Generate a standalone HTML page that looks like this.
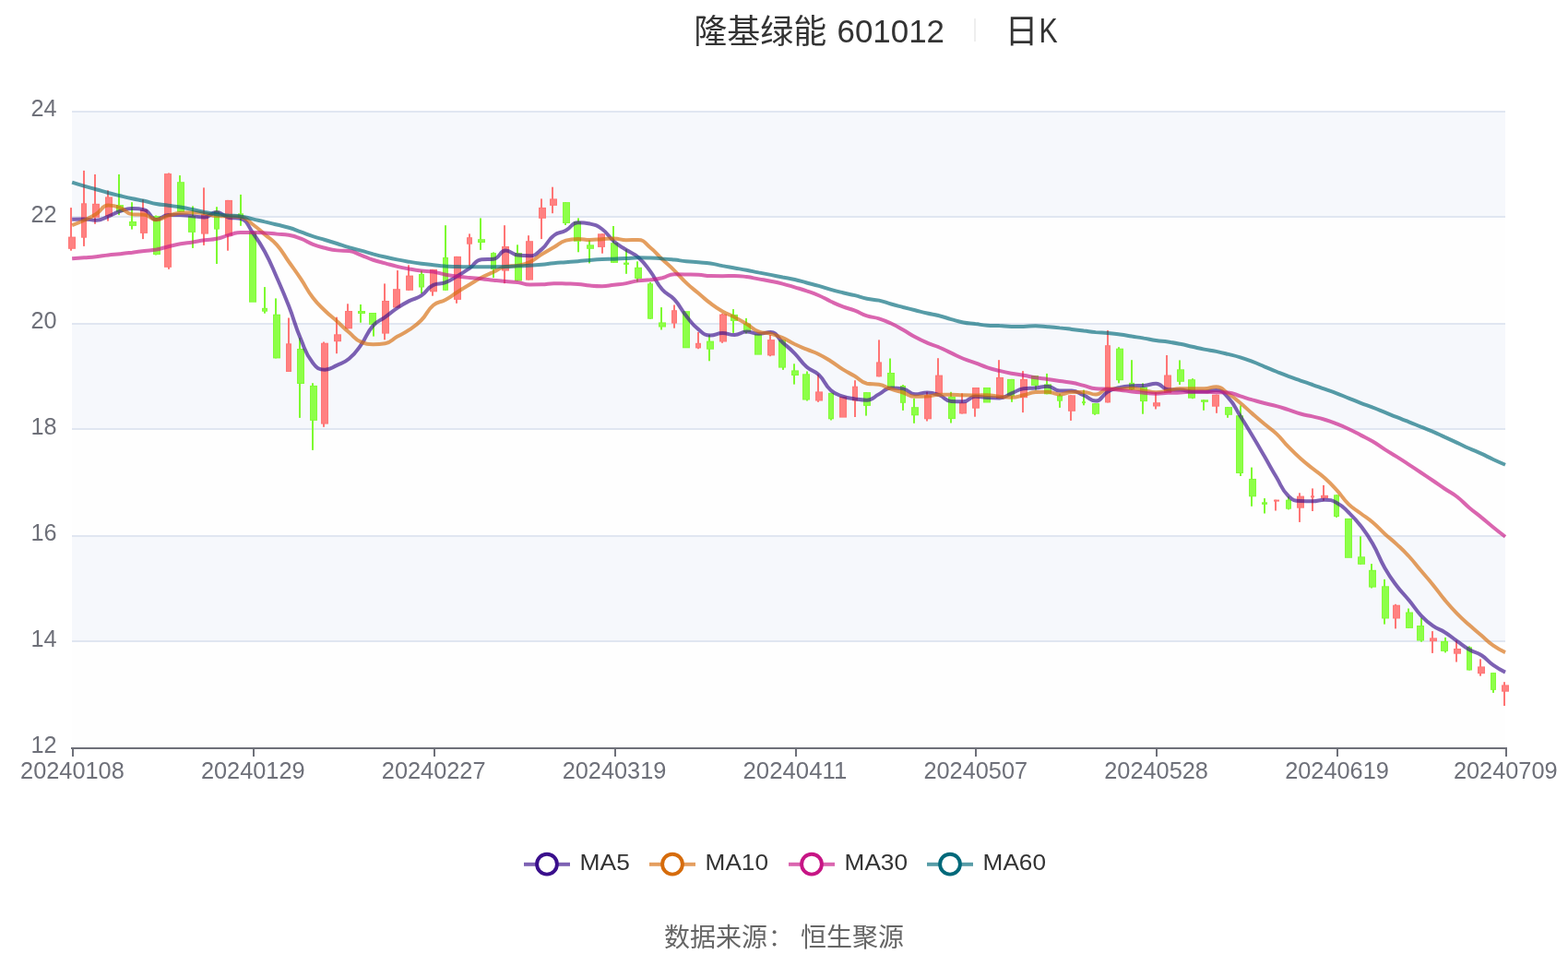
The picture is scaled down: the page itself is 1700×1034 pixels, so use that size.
<!DOCTYPE html>
<html lang="zh-CN"><head><meta charset="utf-8"><title>隆基绿能 601012 日K</title>
<style>
html,body{margin:0;padding:0;background:#fff;}
body{width:1700px;height:1034px;overflow:hidden;font-family:"Liberation Sans",sans-serif;}
svg{display:block;}
svg text{will-change:transform;}
</style></head><body>
<svg width="1700" height="1034" viewBox="0 0 1700 1034">
<rect width="1700" height="1034" fill="#fff"/>
<rect x="78" y="120" width="1554" height="115" fill="rgb(246,248,252)"/>
<rect x="78" y="235" width="1554" height="115" fill="rgb(254,254,254)"/>
<rect x="78" y="350" width="1554" height="115" fill="rgb(246,248,252)"/>
<rect x="78" y="465" width="1554" height="115" fill="rgb(254,254,254)"/>
<rect x="78" y="580" width="1554" height="115" fill="rgb(246,248,252)"/>
<rect x="78" y="695" width="1554" height="115" fill="rgb(254,254,254)"/>
<rect x="78" y="120" width="1554" height="2" fill="#E0E6F1"/>
<rect x="78" y="234" width="1554" height="2" fill="#E0E6F1"/>
<rect x="78" y="350" width="1554" height="2" fill="#E0E6F1"/>
<rect x="78" y="464" width="1554" height="2" fill="#E0E6F1"/>
<rect x="78" y="580" width="1554" height="2" fill="#E0E6F1"/>
<rect x="78" y="694" width="1554" height="2" fill="#E0E6F1"/>
<g><rect x="76" y="225.1" width="2" height="46.6" fill="#FF7575"/><rect x="74" y="256.6" width="8" height="13.2" fill="#FF7777"/><rect x="75" y="257.6" width="6" height="11.2" fill="#FF8181"/><rect x="90" y="184.9" width="2" height="82.0" fill="#FF7575"/><rect x="88" y="220.3" width="6" height="37.4" fill="#FF7777"/><rect x="89" y="221.3" width="4" height="35.4" fill="#FF8181"/><rect x="102" y="189.0" width="2" height="53.8" fill="#FF7575"/><rect x="100" y="220.8" width="8" height="15.0" fill="#FF7777"/><rect x="101" y="221.8" width="6" height="13.0" fill="#FF8181"/><rect x="116" y="206.3" width="2" height="33.3" fill="#FF7575"/><rect x="114" y="213.4" width="8" height="21.0" fill="#FF7777"/><rect x="115" y="214.4" width="6" height="19.0" fill="#FF8181"/><rect x="128" y="189.0" width="2" height="44.1" fill="#7DFA31"/><rect x="126" y="222.1" width="8" height="7.6" fill="#82FB38"/><rect x="127" y="223.1" width="6" height="5.6" fill="#8DFF48"/><rect x="142" y="219.2" width="2" height="29.4" fill="#7DFA31"/><rect x="140" y="240.0" width="8" height="4.9" fill="#82FB38"/><rect x="141" y="241.0" width="6" height="2.9" fill="#8DFF48"/><rect x="154" y="216.0" width="2" height="43.1" fill="#FF7575"/><rect x="152" y="227.0" width="8" height="25.9" fill="#FF7777"/><rect x="153" y="228.0" width="6" height="23.9" fill="#FF8181"/><rect x="168" y="233.5" width="2" height="43.0" fill="#7DFA31"/><rect x="166" y="234.1" width="8" height="41.9" fill="#82FB38"/><rect x="167" y="235.1" width="6" height="39.9" fill="#8DFF48"/><rect x="182" y="187.5" width="2" height="104.3" fill="#FF7575"/><rect x="178" y="188.1" width="8" height="101.7" fill="#FF7777"/><rect x="179" y="189.1" width="6" height="99.7" fill="#FF8181"/><rect x="194" y="190.1" width="2" height="39.5" fill="#7DFA31"/><rect x="192" y="197.2" width="8" height="32.4" fill="#82FB38"/><rect x="193" y="198.2" width="6" height="30.4" fill="#8DFF48"/><rect x="208" y="223.4" width="2" height="45.5" fill="#7DFA31"/><rect x="204" y="234.1" width="8" height="17.8" fill="#82FB38"/><rect x="205" y="235.1" width="6" height="15.8" fill="#8DFF48"/><rect x="220" y="203.4" width="2" height="62.5" fill="#FF7575"/><rect x="218" y="232.4" width="8" height="21.2" fill="#FF7777"/><rect x="219" y="233.4" width="6" height="19.2" fill="#FF8181"/><rect x="234" y="224.2" width="2" height="61.8" fill="#7DFA31"/><rect x="232" y="228.6" width="6" height="20.0" fill="#82FB38"/><rect x="233" y="229.6" width="4" height="18.0" fill="#8DFF48"/><rect x="246" y="216.9" width="2" height="54.8" fill="#FF7575"/><rect x="244" y="216.9" width="8" height="38.6" fill="#FF7777"/><rect x="245" y="217.9" width="6" height="36.6" fill="#FF8181"/><rect x="260" y="210.9" width="2" height="33.9" fill="#7DFA31"/><rect x="258" y="231.3" width="6" height="4.8" fill="#82FB38"/><rect x="259" y="232.3" width="4" height="2.8" fill="#8DFF48"/><rect x="270" y="251.3" width="8" height="76.4" fill="#82FB38"/><rect x="271" y="252.3" width="6" height="74.4" fill="#8DFF48"/><rect x="286" y="311.1" width="2" height="28.6" fill="#7DFA31"/><rect x="284" y="333.8" width="6" height="3.9" fill="#82FB38"/><rect x="285" y="334.8" width="4" height="1.9" fill="#8DFF48"/><rect x="298" y="323.4" width="2" height="65.0" fill="#7DFA31"/><rect x="296" y="340.7" width="8" height="47.7" fill="#82FB38"/><rect x="297" y="341.7" width="6" height="45.7" fill="#8DFF48"/><rect x="312" y="344.5" width="2" height="58.5" fill="#FF7575"/><rect x="310" y="372.3" width="6" height="30.7" fill="#FF7777"/><rect x="311" y="373.3" width="4" height="28.7" fill="#FF8181"/><rect x="324" y="366.1" width="2" height="86.8" fill="#7DFA31"/><rect x="322" y="378.0" width="8" height="38.0" fill="#82FB38"/><rect x="323" y="379.0" width="6" height="36.0" fill="#8DFF48"/><rect x="338" y="415.2" width="2" height="72.7" fill="#7DFA31"/><rect x="336" y="417.9" width="8" height="38.0" fill="#82FB38"/><rect x="337" y="418.9" width="6" height="36.0" fill="#8DFF48"/><rect x="350" y="370.5" width="2" height="92.3" fill="#FF7575"/><rect x="348" y="371.7" width="8" height="87.9" fill="#FF7777"/><rect x="349" y="372.7" width="6" height="85.9" fill="#FF8181"/><rect x="364" y="343.7" width="2" height="39.5" fill="#FF7575"/><rect x="362" y="362.3" width="8" height="7.9" fill="#FF7777"/><rect x="363" y="363.3" width="6" height="5.9" fill="#FF8181"/><rect x="376" y="329.3" width="2" height="27.1" fill="#FF7575"/><rect x="374" y="337.0" width="8" height="19.3" fill="#FF7777"/><rect x="375" y="338.0" width="6" height="17.3" fill="#FF8181"/><rect x="390" y="330.0" width="2" height="19.7" fill="#7DFA31"/><rect x="388" y="337.0" width="8" height="3.0" fill="#82FB38"/><rect x="389" y="338.0" width="6" height="1.0" fill="#8DFF48"/><rect x="404" y="339.0" width="2" height="25.6" fill="#7DFA31"/><rect x="400" y="339.0" width="8" height="12.9" fill="#82FB38"/><rect x="401" y="340.0" width="6" height="10.9" fill="#8DFF48"/><rect x="416" y="307.4" width="2" height="60.9" fill="#FF7575"/><rect x="414" y="326.0" width="8" height="35.6" fill="#FF7777"/><rect x="415" y="327.0" width="6" height="33.6" fill="#FF8181"/><rect x="430" y="293.1" width="2" height="40.4" fill="#FF7575"/><rect x="426" y="313.2" width="8" height="20.3" fill="#FF7777"/><rect x="427" y="314.2" width="6" height="18.3" fill="#FF8181"/><rect x="442" y="287.3" width="2" height="27.5" fill="#FF7575"/><rect x="440" y="298.6" width="8" height="16.2" fill="#FF7777"/><rect x="441" y="299.6" width="6" height="14.2" fill="#FF8181"/><rect x="456" y="293.4" width="2" height="24.6" fill="#7DFA31"/><rect x="454" y="297.0" width="6" height="14.5" fill="#82FB38"/><rect x="455" y="298.0" width="4" height="12.5" fill="#8DFF48"/><rect x="468" y="291.9" width="2" height="28.8" fill="#FF7575"/><rect x="466" y="291.9" width="8" height="24.4" fill="#FF7777"/><rect x="467" y="292.9" width="6" height="22.4" fill="#FF8181"/><rect x="482" y="244.2" width="2" height="70.6" fill="#7DFA31"/><rect x="480" y="278.9" width="6" height="35.9" fill="#82FB38"/><rect x="481" y="279.9" width="4" height="33.9" fill="#8DFF48"/><rect x="494" y="277.9" width="2" height="50.9" fill="#FF7575"/><rect x="492" y="277.9" width="8" height="47.0" fill="#FF7777"/><rect x="493" y="278.9" width="6" height="45.0" fill="#FF8181"/><rect x="508" y="253.4" width="2" height="34.6" fill="#FF7575"/><rect x="506" y="257.2" width="6" height="7.5" fill="#FF7777"/><rect x="507" y="258.2" width="4" height="5.5" fill="#FF8181"/><rect x="520" y="236.4" width="2" height="34.5" fill="#7DFA31"/><rect x="518" y="259.2" width="8" height="3.8" fill="#82FB38"/><rect x="519" y="260.2" width="6" height="1.8" fill="#8DFF48"/><rect x="534" y="273.4" width="2" height="27.6" fill="#7DFA31"/><rect x="532" y="274.1" width="6" height="17.8" fill="#82FB38"/><rect x="533" y="275.1" width="4" height="15.8" fill="#8DFF48"/><rect x="546" y="244.2" width="2" height="63.0" fill="#FF7575"/><rect x="544" y="267.0" width="8" height="26.6" fill="#FF7777"/><rect x="545" y="268.0" width="6" height="24.6" fill="#FF8181"/><rect x="560" y="265.3" width="2" height="39.3" fill="#7DFA31"/><rect x="558" y="274.1" width="8" height="30.4" fill="#82FB38"/><rect x="559" y="275.1" width="6" height="28.4" fill="#8DFF48"/><rect x="572" y="255.2" width="2" height="48.3" fill="#FF7575"/><rect x="570" y="261.2" width="8" height="42.4" fill="#FF7777"/><rect x="571" y="262.2" width="6" height="40.4" fill="#FF8181"/><rect x="586" y="215.4" width="2" height="43.7" fill="#FF7575"/><rect x="584" y="224.9" width="8" height="11.9" fill="#FF7777"/><rect x="585" y="225.9" width="6" height="9.9" fill="#FF8181"/><rect x="598" y="202.7" width="2" height="28.5" fill="#FF7575"/><rect x="596" y="215.4" width="8" height="7.5" fill="#FF7777"/><rect x="597" y="216.4" width="6" height="5.5" fill="#FF8181"/><rect x="612" y="219.1" width="2" height="24.9" fill="#7DFA31"/><rect x="610" y="219.1" width="8" height="22.9" fill="#82FB38"/><rect x="611" y="220.1" width="6" height="20.9" fill="#8DFF48"/><rect x="626" y="236.4" width="2" height="36.9" fill="#7DFA31"/><rect x="622" y="240.1" width="8" height="21.6" fill="#82FB38"/><rect x="623" y="241.1" width="6" height="19.6" fill="#8DFF48"/><rect x="638" y="260.4" width="2" height="25.0" fill="#7DFA31"/><rect x="636" y="265.3" width="8" height="4.5" fill="#82FB38"/><rect x="637" y="266.3" width="6" height="2.5" fill="#8DFF48"/><rect x="652" y="253.3" width="2" height="21.4" fill="#FF7575"/><rect x="648" y="253.3" width="8" height="14.6" fill="#FF7777"/><rect x="649" y="254.3" width="6" height="12.6" fill="#FF8181"/><rect x="664" y="245.0" width="2" height="39.9" fill="#7DFA31"/><rect x="662" y="263.2" width="8" height="21.7" fill="#82FB38"/><rect x="663" y="264.2" width="6" height="19.7" fill="#8DFF48"/><rect x="678" y="270.2" width="2" height="26.6" fill="#7DFA31"/><rect x="676" y="284.6" width="6" height="2.3" fill="#82FB38"/><rect x="690" y="283.3" width="2" height="22.1" fill="#7DFA31"/><rect x="688" y="289.8" width="8" height="12.1" fill="#82FB38"/><rect x="689" y="290.8" width="6" height="10.1" fill="#8DFF48"/><rect x="704" y="305.8" width="2" height="39.9" fill="#7DFA31"/><rect x="702" y="307.3" width="6" height="38.4" fill="#82FB38"/><rect x="703" y="308.3" width="4" height="36.4" fill="#8DFF48"/><rect x="716" y="333.1" width="2" height="24.4" fill="#7DFA31"/><rect x="714" y="349.4" width="8" height="5.1" fill="#82FB38"/><rect x="715" y="350.4" width="6" height="3.1" fill="#8DFF48"/><rect x="730" y="330.5" width="2" height="25.2" fill="#FF7575"/><rect x="728" y="336.2" width="6" height="14.4" fill="#FF7777"/><rect x="729" y="337.2" width="4" height="12.4" fill="#FF8181"/><rect x="740" y="337.2" width="8" height="40.1" fill="#82FB38"/><rect x="741" y="338.2" width="6" height="38.1" fill="#8DFF48"/><rect x="756" y="359.9" width="2" height="18.3" fill="#FF7575"/><rect x="754" y="371.8" width="6" height="5.6" fill="#FF7777"/><rect x="755" y="372.8" width="4" height="3.6" fill="#FF8181"/><rect x="768" y="363.0" width="2" height="28.3" fill="#7DFA31"/><rect x="766" y="369.6" width="8" height="9.1" fill="#82FB38"/><rect x="767" y="370.6" width="6" height="7.1" fill="#8DFF48"/><rect x="782" y="339.8" width="2" height="32.0" fill="#FF7575"/><rect x="780" y="340.6" width="8" height="29.9" fill="#FF7777"/><rect x="781" y="341.6" width="6" height="27.9" fill="#FF8181"/><rect x="794" y="335.1" width="2" height="25.8" fill="#7DFA31"/><rect x="792" y="340.9" width="8" height="7.0" fill="#82FB38"/><rect x="793" y="341.9" width="6" height="5.0" fill="#8DFF48"/><rect x="808" y="344.9" width="2" height="16.6" fill="#7DFA31"/><rect x="806" y="350.6" width="8" height="9.3" fill="#82FB38"/><rect x="807" y="351.6" width="6" height="7.3" fill="#8DFF48"/><rect x="818" y="362.2" width="8" height="22.4" fill="#82FB38"/><rect x="819" y="363.2" width="6" height="20.4" fill="#8DFF48"/><rect x="834" y="363.0" width="2" height="23.2" fill="#FF7575"/><rect x="832" y="368.1" width="8" height="17.3" fill="#FF7777"/><rect x="833" y="369.1" width="6" height="15.3" fill="#FF8181"/><rect x="848" y="368.4" width="2" height="32.5" fill="#7DFA31"/><rect x="844" y="368.4" width="8" height="30.2" fill="#82FB38"/><rect x="845" y="369.4" width="6" height="28.2" fill="#8DFF48"/><rect x="860" y="394.3" width="2" height="22.3" fill="#7DFA31"/><rect x="858" y="401.4" width="8" height="5.6" fill="#82FB38"/><rect x="859" y="402.4" width="6" height="3.6" fill="#8DFF48"/><rect x="874" y="402.5" width="2" height="32.0" fill="#7DFA31"/><rect x="870" y="405.3" width="8" height="28.2" fill="#82FB38"/><rect x="871" y="406.3" width="6" height="26.2" fill="#8DFF48"/><rect x="886" y="405.6" width="2" height="30.2" fill="#FF7575"/><rect x="884" y="424.4" width="8" height="10.1" fill="#FF7777"/><rect x="885" y="425.4" width="6" height="8.1" fill="#FF8181"/><rect x="900" y="425.8" width="2" height="29.7" fill="#7DFA31"/><rect x="898" y="425.8" width="6" height="28.5" fill="#82FB38"/><rect x="899" y="426.8" width="4" height="26.5" fill="#8DFF48"/><rect x="910" y="429.9" width="8" height="22.7" fill="#FF7777"/><rect x="911" y="430.9" width="6" height="20.7" fill="#FF8181"/><rect x="926" y="412.2" width="2" height="39.8" fill="#FF7575"/><rect x="924" y="418.7" width="6" height="15.8" fill="#FF7777"/><rect x="925" y="419.7" width="4" height="13.8" fill="#FF8181"/><rect x="938" y="425.1" width="2" height="25.5" fill="#7DFA31"/><rect x="936" y="425.1" width="8" height="14.8" fill="#82FB38"/><rect x="937" y="426.1" width="6" height="12.8" fill="#8DFF48"/><rect x="952" y="368.4" width="2" height="39.9" fill="#FF7575"/><rect x="950" y="392.4" width="6" height="15.9" fill="#FF7777"/><rect x="951" y="393.4" width="4" height="13.9" fill="#FF8181"/><rect x="964" y="388.5" width="2" height="31.7" fill="#7DFA31"/><rect x="962" y="404.0" width="8" height="16.2" fill="#82FB38"/><rect x="963" y="405.0" width="6" height="14.2" fill="#8DFF48"/><rect x="978" y="417.0" width="2" height="27.9" fill="#7DFA31"/><rect x="976" y="418.0" width="6" height="18.8" fill="#82FB38"/><rect x="977" y="419.0" width="4" height="16.8" fill="#8DFF48"/><rect x="990" y="431.9" width="2" height="26.9" fill="#7DFA31"/><rect x="988" y="441.2" width="8" height="9.1" fill="#82FB38"/><rect x="989" y="442.2" width="6" height="7.1" fill="#8DFF48"/><rect x="1004" y="424.8" width="2" height="31.7" fill="#FF7575"/><rect x="1002" y="428.3" width="8" height="26.0" fill="#FF7777"/><rect x="1003" y="429.3" width="6" height="24.0" fill="#FF8181"/><rect x="1016" y="388.2" width="2" height="38.5" fill="#FF7575"/><rect x="1014" y="406.6" width="8" height="20.1" fill="#FF7777"/><rect x="1015" y="407.6" width="6" height="18.1" fill="#FF8181"/><rect x="1030" y="424.8" width="2" height="33.7" fill="#7DFA31"/><rect x="1028" y="429.9" width="8" height="24.2" fill="#82FB38"/><rect x="1029" y="430.9" width="6" height="22.2" fill="#8DFF48"/><rect x="1042" y="426.3" width="2" height="22.2" fill="#FF7575"/><rect x="1040" y="436.4" width="8" height="12.0" fill="#FF7777"/><rect x="1041" y="437.4" width="6" height="10.0" fill="#FF8181"/><rect x="1056" y="420.0" width="2" height="31.7" fill="#FF7575"/><rect x="1054" y="420.0" width="8" height="22.7" fill="#FF7777"/><rect x="1055" y="421.0" width="6" height="20.7" fill="#FF8181"/><rect x="1066" y="420.0" width="8" height="16.5" fill="#82FB38"/><rect x="1067" y="421.0" width="6" height="14.5" fill="#8DFF48"/><rect x="1082" y="390.2" width="2" height="41.8" fill="#FF7575"/><rect x="1080" y="408.9" width="8" height="23.1" fill="#FF7777"/><rect x="1081" y="409.9" width="6" height="21.1" fill="#FF8181"/><rect x="1096" y="410.9" width="2" height="24.9" fill="#7DFA31"/><rect x="1092" y="410.9" width="8" height="18.5" fill="#82FB38"/><rect x="1093" y="411.9" width="6" height="16.5" fill="#8DFF48"/><rect x="1108" y="402.1" width="2" height="45.0" fill="#FF7575"/><rect x="1106" y="410.9" width="8" height="20.3" fill="#FF7777"/><rect x="1107" y="411.9" width="6" height="18.3" fill="#FF8181"/><rect x="1122" y="407.0" width="2" height="15.8" fill="#7DFA31"/><rect x="1118" y="407.0" width="8" height="10.9" fill="#82FB38"/><rect x="1119" y="408.0" width="6" height="8.9" fill="#8DFF48"/><rect x="1134" y="404.9" width="2" height="22.4" fill="#7DFA31"/><rect x="1132" y="416.3" width="8" height="11.0" fill="#82FB38"/><rect x="1133" y="417.3" width="6" height="9.0" fill="#8DFF48"/><rect x="1148" y="426.7" width="2" height="15.2" fill="#7DFA31"/><rect x="1146" y="428.6" width="6" height="6.1" fill="#82FB38"/><rect x="1147" y="429.6" width="4" height="4.1" fill="#8DFF48"/><rect x="1160" y="428.3" width="2" height="27.6" fill="#FF7575"/><rect x="1158" y="428.3" width="8" height="17.5" fill="#FF7777"/><rect x="1159" y="429.3" width="6" height="15.5" fill="#FF8181"/><rect x="1174" y="422.6" width="2" height="16.7" fill="#7DFA31"/><rect x="1173" y="435.1" width="4" height="2" fill="#82FB38"/><rect x="1186" y="437.1" width="2" height="12.7" fill="#7DFA31"/><rect x="1184" y="437.1" width="8" height="11.7" fill="#82FB38"/><rect x="1185" y="438.1" width="6" height="9.7" fill="#8DFF48"/><rect x="1200" y="358.0" width="2" height="78.4" fill="#FF7575"/><rect x="1198" y="374.2" width="6" height="62.2" fill="#FF7777"/><rect x="1199" y="375.2" width="4" height="60.2" fill="#FF8181"/><rect x="1212" y="376.2" width="2" height="39.1" fill="#7DFA31"/><rect x="1210" y="377.7" width="8" height="34.5" fill="#82FB38"/><rect x="1211" y="378.7" width="6" height="32.5" fill="#8DFF48"/><rect x="1226" y="390.2" width="2" height="32.7" fill="#7DFA31"/><rect x="1224" y="414.8" width="6" height="7.4" fill="#82FB38"/><rect x="1225" y="415.8" width="4" height="5.4" fill="#8DFF48"/><rect x="1238" y="415.3" width="2" height="33.4" fill="#7DFA31"/><rect x="1236" y="419.6" width="8" height="15.5" fill="#82FB38"/><rect x="1237" y="420.6" width="6" height="13.5" fill="#8DFF48"/><rect x="1252" y="425.1" width="2" height="18.4" fill="#FF7575"/><rect x="1250" y="436.2" width="8" height="4.3" fill="#FF7777"/><rect x="1251" y="437.2" width="6" height="2.3" fill="#FF8181"/><rect x="1264" y="385.0" width="2" height="40.9" fill="#FF7575"/><rect x="1262" y="406.5" width="8" height="19.4" fill="#FF7777"/><rect x="1263" y="407.5" width="6" height="17.4" fill="#FF8181"/><rect x="1278" y="390.4" width="2" height="26.6" fill="#7DFA31"/><rect x="1276" y="400.3" width="8" height="13.5" fill="#82FB38"/><rect x="1277" y="401.3" width="6" height="11.5" fill="#8DFF48"/><rect x="1292" y="410.2" width="2" height="22.0" fill="#7DFA31"/><rect x="1288" y="411.2" width="8" height="20.5" fill="#82FB38"/><rect x="1289" y="412.2" width="6" height="18.5" fill="#8DFF48"/><rect x="1304" y="433.3" width="2" height="11.5" fill="#7DFA31"/><rect x="1302" y="433.3" width="8" height="2.5" fill="#82FB38"/><rect x="1318" y="427.7" width="2" height="20.1" fill="#FF7575"/><rect x="1314" y="427.7" width="8" height="13.0" fill="#FF7777"/><rect x="1315" y="428.7" width="6" height="11.0" fill="#FF8181"/><rect x="1330" y="441.1" width="2" height="11.7" fill="#7DFA31"/><rect x="1328" y="441.1" width="8" height="8.7" fill="#82FB38"/><rect x="1329" y="442.1" width="6" height="6.7" fill="#8DFF48"/><rect x="1344" y="439.4" width="2" height="76.6" fill="#7DFA31"/><rect x="1340" y="450.2" width="8" height="62.8" fill="#82FB38"/><rect x="1341" y="451.2" width="6" height="60.8" fill="#8DFF48"/><rect x="1356" y="506.6" width="2" height="42.2" fill="#7DFA31"/><rect x="1354" y="518.9" width="8" height="19.4" fill="#82FB38"/><rect x="1355" y="519.9" width="6" height="17.4" fill="#8DFF48"/><rect x="1370" y="540.1" width="2" height="16.4" fill="#7DFA31"/><rect x="1368" y="544.3" width="6" height="2.5" fill="#82FB38"/><rect x="1382" y="541.7" width="2" height="11.8" fill="#FF7575"/><rect x="1381" y="541.6" width="6" height="2" fill="#FF7777"/><rect x="1396" y="538.3" width="2" height="14.1" fill="#7DFA31"/><rect x="1394" y="541.7" width="6" height="10.0" fill="#82FB38"/><rect x="1395" y="542.7" width="4" height="8.0" fill="#8DFF48"/><rect x="1408" y="534.3" width="2" height="31.6" fill="#FF7575"/><rect x="1406" y="537.6" width="8" height="13.1" fill="#FF7777"/><rect x="1407" y="538.6" width="6" height="11.1" fill="#FF8181"/><rect x="1422" y="529.4" width="2" height="24.6" fill="#FF7575"/><rect x="1421" y="537.3" width="4" height="2" fill="#FF7777"/><rect x="1434" y="525.9" width="2" height="16.8" fill="#FF7575"/><rect x="1432" y="536.8" width="8" height="3.3" fill="#FF7777"/><rect x="1433" y="537.8" width="6" height="1.3" fill="#FF8181"/><rect x="1448" y="536.3" width="2" height="24.6" fill="#7DFA31"/><rect x="1446" y="536.3" width="6" height="23.7" fill="#82FB38"/><rect x="1447" y="537.3" width="4" height="21.7" fill="#8DFF48"/><rect x="1458" y="561.9" width="8" height="42.9" fill="#82FB38"/><rect x="1459" y="562.9" width="6" height="40.9" fill="#8DFF48"/><rect x="1474" y="581.3" width="2" height="30.5" fill="#7DFA31"/><rect x="1472" y="603.3" width="8" height="8.5" fill="#82FB38"/><rect x="1473" y="604.3" width="6" height="6.5" fill="#8DFF48"/><rect x="1486" y="611.1" width="2" height="26.4" fill="#7DFA31"/><rect x="1484" y="617.8" width="8" height="18.8" fill="#82FB38"/><rect x="1485" y="618.8" width="6" height="16.8" fill="#8DFF48"/><rect x="1500" y="627.9" width="2" height="48.7" fill="#7DFA31"/><rect x="1498" y="635.3" width="8" height="35.2" fill="#82FB38"/><rect x="1499" y="636.3" width="6" height="33.2" fill="#8DFF48"/><rect x="1512" y="654.8" width="2" height="26.6" fill="#FF7575"/><rect x="1510" y="655.7" width="8" height="14.8" fill="#FF7777"/><rect x="1511" y="656.7" width="6" height="12.8" fill="#FF8181"/><rect x="1526" y="659.5" width="2" height="21.4" fill="#7DFA31"/><rect x="1524" y="663.5" width="8" height="17.4" fill="#82FB38"/><rect x="1525" y="664.5" width="6" height="15.4" fill="#8DFF48"/><rect x="1540" y="669.6" width="2" height="26.1" fill="#7DFA31"/><rect x="1536" y="678.0" width="8" height="16.5" fill="#82FB38"/><rect x="1537" y="679.0" width="6" height="14.5" fill="#8DFF48"/><rect x="1552" y="684.1" width="2" height="23.8" fill="#FF7575"/><rect x="1550" y="691.4" width="8" height="3.8" fill="#FF7777"/><rect x="1551" y="692.4" width="6" height="1.8" fill="#FF8181"/><rect x="1566" y="690.9" width="2" height="16.5" fill="#7DFA31"/><rect x="1562" y="694.9" width="8" height="11.0" fill="#82FB38"/><rect x="1563" y="695.9" width="6" height="9.0" fill="#8DFF48"/><rect x="1578" y="694.0" width="2" height="23.5" fill="#FF7575"/><rect x="1576" y="703.0" width="8" height="5.7" fill="#FF7777"/><rect x="1577" y="704.0" width="6" height="3.7" fill="#FF8181"/><rect x="1592" y="700.4" width="2" height="26.1" fill="#7DFA31"/><rect x="1590" y="701.3" width="6" height="25.2" fill="#82FB38"/><rect x="1591" y="702.3" width="4" height="23.2" fill="#8DFF48"/><rect x="1604" y="714.4" width="2" height="18.3" fill="#FF7575"/><rect x="1602" y="722.4" width="8" height="7.8" fill="#FF7777"/><rect x="1603" y="723.4" width="6" height="5.8" fill="#FF8181"/><rect x="1618" y="729.1" width="2" height="21.8" fill="#7DFA31"/><rect x="1616" y="729.1" width="6" height="18.8" fill="#82FB38"/><rect x="1617" y="730.1" width="4" height="16.8" fill="#8DFF48"/><rect x="1630" y="739.2" width="2" height="25.8" fill="#FF7575"/><rect x="1628" y="742.4" width="8" height="7.3" fill="#FF7777"/><rect x="1629" y="743.4" width="6" height="5.3" fill="#FF8181"/></g>
<path d="M78.14 237.63C78.14 237.63 84.68 237.42 91.19 237.42C97.74 237.42 97.87 238.76 104.25 238.76C110.93 238.76 110.91 236.98 117.31 234.53C123.97 231.98 123.61 230.95 130.37 228.74C136.67 226.69 136.84 226.01 143.42 226.01C149.90 226.01 150.76 226.01 156.48 227.36C163.82 229.09 162.41 238.00 169.54 238.00C175.47 238.00 175.84 232.97 182.60 232.94C188.90 232.93 189.14 232.93 195.65 232.93C202.20 232.93 202.18 233.70 208.71 234.32C215.23 234.94 215.49 235.40 221.77 235.40C228.55 235.40 228.33 229.93 234.83 229.93C241.38 229.93 241.08 234.27 247.89 235.69C254.14 236.99 255.77 235.69 260.94 236.99C268.83 238.97 268.12 244.09 274.00 252.15C281.18 262.00 281.29 262.07 287.06 272.81C294.35 286.37 293.88 286.66 300.12 300.76C306.94 316.17 307.06 316.14 313.17 331.84C320.12 349.67 318.78 350.23 326.23 367.82C331.84 381.04 330.69 382.64 339.29 393.45C343.75 399.06 345.59 400.66 352.35 400.66C358.65 400.66 359.09 398.72 365.41 395.84C372.15 392.78 372.91 393.52 378.46 388.79C385.96 382.40 385.66 381.68 391.52 373.60C398.71 363.69 396.66 361.88 404.58 352.81C409.72 346.92 411.19 348.35 417.64 343.67C424.25 338.87 423.92 338.39 430.69 333.84C436.98 329.62 437.02 329.60 443.75 326.14C450.08 322.90 450.94 324.33 456.81 320.44C464.00 315.68 462.46 312.30 469.87 308.84C475.52 306.19 476.75 308.49 482.93 306.19C489.81 303.64 489.59 302.89 495.98 299.13C502.65 295.22 502.68 295.23 509.04 290.85C515.74 286.24 514.86 281.64 522.10 281.14C527.91 280.74 529.28 281.14 535.16 280.74C542.34 280.26 541.25 271.58 548.21 271.58C554.31 271.58 554.53 275.66 561.27 276.52C567.59 277.32 568.23 277.32 574.33 277.32C581.29 277.32 581.78 274.85 587.39 270.11C594.84 263.80 592.83 261.14 600.45 255.22C605.88 250.99 607.30 253.13 613.50 249.81C620.36 246.15 619.47 241.24 626.56 241.24C632.52 241.24 633.36 241.24 639.62 242.57C646.41 244.02 647.04 244.12 652.68 248.25C660.10 253.70 658.65 255.64 665.73 261.74C671.71 266.88 672.16 266.39 678.79 270.71C685.21 274.90 686.19 273.72 691.85 278.75C699.24 285.32 698.94 285.91 704.91 293.91C712.00 303.41 710.33 304.83 717.97 313.76C723.39 320.09 725.40 318.24 731.02 324.43C738.46 332.61 737.10 333.83 744.08 342.50C750.16 350.06 749.69 350.90 757.14 356.89C762.75 361.40 763.35 363.51 770.20 363.51C776.41 363.51 776.71 361.12 783.25 361.12C789.77 361.12 789.86 363.04 796.31 363.04C802.92 363.04 802.77 359.58 809.37 359.58C815.83 359.58 815.88 361.75 822.43 361.75C828.94 361.75 829.82 360.01 835.49 360.01C842.88 360.01 842.09 365.52 848.54 371.22C855.15 377.04 855.43 376.77 861.60 383.05C868.49 390.06 867.35 391.33 874.66 397.78C880.41 402.86 882.22 400.82 887.72 406.12C895.28 413.41 893.04 416.00 900.77 422.96C906.10 427.75 907.00 427.17 913.83 429.63C920.05 431.87 920.31 431.36 926.89 432.36C933.36 433.36 933.75 433.63 939.95 433.63C946.81 433.63 946.52 430.52 953.01 427.23C959.58 423.91 959.15 420.42 966.06 420.42C972.21 420.42 972.89 420.42 979.12 421.39C985.95 422.46 985.38 427.32 992.18 427.32C998.44 427.32 998.75 425.38 1005.24 425.38C1011.81 425.38 1012.08 425.94 1018.29 428.23C1025.14 430.76 1024.43 434.66 1031.35 435.02C1037.49 435.34 1038.16 435.34 1044.41 435.34C1051.22 435.34 1050.67 429.68 1057.47 429.68C1063.73 429.68 1063.98 430.49 1070.53 430.91C1077.04 431.34 1077.27 431.38 1083.58 431.38C1090.33 431.38 1090.13 428.94 1096.64 426.43C1103.18 423.91 1102.94 422.20 1109.70 421.32C1116.00 420.51 1116.25 421.16 1122.76 420.51C1129.31 419.85 1129.46 418.69 1135.81 418.69C1142.52 418.69 1142.14 423.27 1148.87 423.45C1155.20 423.62 1155.61 423.45 1161.93 423.62C1168.67 423.80 1168.58 425.75 1174.99 428.46C1181.64 431.26 1181.97 434.62 1188.05 434.62C1195.03 434.62 1193.98 428.42 1201.10 424.40C1207.04 421.05 1207.47 421.46 1214.16 419.89C1220.53 418.39 1220.67 418.66 1227.22 418.27C1233.72 417.88 1233.79 418.27 1240.28 417.88C1246.85 417.49 1247.12 415.77 1253.33 415.77C1260.18 415.77 1259.51 421.88 1266.39 422.23C1272.57 422.54 1272.95 422.23 1279.45 422.54C1286.01 422.85 1285.95 424.30 1292.51 424.43C1299.00 424.56 1299.06 424.56 1305.57 424.56C1312.12 424.56 1312.62 422.88 1318.62 422.88C1325.67 422.88 1326.54 425.59 1331.68 431.13C1339.59 439.65 1338.38 440.95 1344.74 450.98C1351.44 461.54 1351.36 461.59 1357.80 472.31C1364.42 483.36 1364.39 483.38 1370.85 494.52C1377.45 505.88 1377.12 506.08 1383.91 517.31C1390.17 527.67 1388.72 529.58 1396.97 537.70C1401.78 542.43 1403.25 542.75 1410.03 543.02C1416.31 543.27 1416.58 543.27 1423.09 543.27C1429.64 543.27 1429.69 541.67 1436.14 541.67C1442.75 541.67 1443.40 541.84 1449.20 544.92C1456.46 548.78 1456.21 549.73 1462.26 555.54C1469.26 562.27 1469.38 562.30 1475.32 570.00C1482.44 579.23 1482.59 579.26 1488.37 589.39C1495.65 602.13 1494.18 602.98 1501.43 615.73C1507.23 625.92 1507.44 625.89 1514.49 635.27C1520.50 643.28 1521.18 642.75 1527.55 650.50C1534.24 658.63 1533.44 659.38 1540.61 667.04C1546.49 673.33 1546.63 673.44 1553.66 678.40C1559.69 682.66 1560.46 681.50 1566.72 685.47C1573.52 689.77 1573.21 690.26 1579.78 694.94C1586.27 699.55 1585.97 700.09 1592.84 704.06C1599.03 707.63 1599.92 706.16 1605.89 710.03C1612.98 714.60 1612.05 716.01 1618.95 720.94C1625.11 725.33 1632.01 728.65 1632.01 728.65" fill="none" stroke="#3A0F8C" stroke-opacity="0.66" stroke-width="4" stroke-linejoin="bevel"/>
<path d="M78.14 244.11C78.14 244.11 84.79 241.67 91.19 238.69C97.85 235.60 98.02 235.83 104.25 231.98C111.08 227.75 110.16 222.54 117.31 222.54C123.22 222.54 124.21 222.80 130.37 225.11C137.27 227.69 136.46 231.78 143.42 232.31C149.52 232.76 150.21 232.31 156.48 232.76C163.27 233.26 162.94 238.18 169.54 238.18C175.99 238.18 175.96 235.53 182.60 233.66C189.02 231.86 189.06 231.52 195.65 230.83C202.11 230.17 202.19 230.17 208.71 230.17C215.25 230.17 215.29 230.44 221.77 231.38C228.35 232.34 228.24 233.61 234.83 233.97C241.30 234.32 241.36 234.07 247.89 234.32C254.42 234.56 254.96 234.32 260.94 234.96C268.02 235.71 267.78 238.68 274.00 243.24C280.84 248.25 280.58 248.62 287.06 254.11C293.63 259.67 294.47 258.93 300.12 265.35C307.52 273.76 306.67 274.54 313.17 283.77C319.73 293.07 319.91 292.95 326.23 302.40C332.97 312.47 331.99 313.20 339.29 322.80C345.05 330.37 345.52 330.07 352.35 336.73C358.58 342.82 358.93 342.46 365.41 348.30C371.99 354.25 371.73 354.54 378.46 360.32C384.79 365.75 384.25 367.67 391.52 370.71C397.31 373.13 398.00 373.13 404.58 373.13C411.06 373.13 411.54 373.13 417.64 372.16C424.60 371.06 424.17 368.51 430.69 364.84C437.23 361.16 437.58 361.68 443.75 357.47C450.64 352.77 450.99 352.96 456.81 347.02C464.05 339.64 462.13 337.36 469.87 330.82C475.19 326.32 476.66 328.37 482.93 324.93C489.72 321.20 489.40 320.63 495.98 316.48C502.46 312.41 502.48 312.44 509.04 308.50C515.54 304.59 515.40 304.31 522.10 300.79C528.45 297.46 528.62 297.77 535.16 294.79C541.68 291.82 541.39 290.05 548.21 288.89C554.45 287.83 554.86 288.89 561.27 287.83C567.92 286.72 568.24 286.93 574.33 284.09C581.30 280.83 580.77 279.71 587.39 275.62C593.83 271.65 593.88 271.73 600.45 267.98C606.94 264.27 606.56 262.76 613.50 260.70C619.62 258.88 620.01 258.88 626.56 258.88C633.07 258.88 633.09 259.95 639.62 259.95C646.14 259.95 646.15 259.55 652.68 259.18C659.20 258.81 659.23 258.48 665.73 258.48C672.29 258.48 672.23 260.26 678.79 260.26C685.29 260.26 685.87 259.99 691.85 259.99C698.93 259.99 698.92 263.43 704.91 268.24C711.98 273.93 711.35 274.71 717.97 281.00C724.41 287.13 724.68 286.86 731.02 293.08C737.73 299.66 737.26 300.15 744.08 306.61C750.32 312.52 750.57 312.26 757.14 317.82C763.63 323.31 763.41 323.61 770.20 328.71C776.47 333.42 776.46 333.53 783.25 337.44C789.52 341.05 789.89 340.39 796.31 343.74C802.94 347.19 802.95 347.21 809.37 351.04C816.01 355.00 815.40 356.47 822.43 359.32C828.46 361.76 829.08 360.08 835.49 361.76C842.13 363.50 842.24 363.44 848.54 366.17C855.30 369.09 854.95 369.86 861.60 373.05C868.01 376.12 868.10 375.94 874.66 378.68C881.15 381.39 881.41 380.84 887.72 383.93C894.47 387.25 894.40 387.46 900.77 391.49C907.46 395.71 907.12 396.25 913.83 400.42C920.18 404.36 920.44 403.93 926.89 407.71C933.50 411.57 932.91 414.57 939.95 415.71C945.97 416.68 946.69 415.71 953.01 416.68C959.75 417.72 959.44 419.45 966.06 421.69C972.50 423.87 972.63 423.49 979.12 425.51C985.69 427.56 985.48 429.84 992.18 429.84C998.54 429.84 998.74 429.84 1005.24 429.51C1011.79 429.17 1011.74 427.75 1018.29 427.73C1024.79 427.72 1024.83 427.72 1031.35 427.72C1037.89 427.72 1037.88 428.24 1044.41 428.37C1050.94 428.50 1050.94 428.50 1057.47 428.50C1064.00 428.50 1064.02 428.15 1070.53 428.15C1077.08 428.15 1077.04 429.16 1083.58 429.81C1090.09 430.45 1090.16 430.72 1096.64 430.72C1103.22 430.72 1103.21 429.73 1109.70 428.33C1116.27 426.92 1116.13 425.39 1122.76 425.09C1129.19 424.80 1129.35 424.80 1135.81 424.80C1142.41 424.80 1142.33 427.42 1148.87 427.42C1155.39 427.42 1155.35 425.16 1161.93 425.02C1168.41 424.89 1168.53 424.89 1174.99 424.89C1181.58 424.89 1181.76 427.57 1188.05 427.57C1194.82 427.57 1194.26 421.55 1201.10 421.55C1207.32 421.55 1207.64 421.67 1214.16 421.67C1220.70 421.67 1220.73 420.95 1227.22 420.95C1233.79 420.95 1233.74 422.10 1240.28 423.17C1246.80 424.23 1246.80 425.20 1253.33 425.20C1259.86 425.20 1259.87 424.31 1266.39 423.31C1272.93 422.32 1272.88 421.21 1279.45 421.21C1285.94 421.21 1285.98 421.35 1292.51 421.35C1299.04 421.35 1299.07 421.35 1305.57 421.22C1312.13 421.09 1312.51 419.32 1318.62 419.32C1325.57 419.32 1325.47 422.53 1331.68 426.68C1338.52 431.25 1338.40 431.49 1344.74 436.76C1351.46 442.34 1351.21 442.63 1357.80 448.37C1364.27 454.02 1364.25 454.05 1370.85 459.54C1377.31 464.91 1377.85 464.32 1383.91 470.10C1390.91 476.76 1390.22 477.47 1396.97 484.42C1403.28 490.92 1403.28 490.96 1410.03 497.00C1416.33 502.64 1416.50 502.47 1423.09 507.79C1429.55 513.02 1429.95 512.56 1436.14 518.09C1443.01 524.23 1442.98 524.32 1449.20 531.12C1456.04 538.59 1455.04 539.60 1462.26 546.62C1468.09 552.30 1468.78 551.57 1475.32 556.51C1481.84 561.43 1482.16 561.05 1488.37 566.33C1495.22 572.15 1494.78 572.65 1501.43 578.70C1507.84 584.53 1508.15 584.20 1514.49 590.10C1521.21 596.35 1521.34 596.26 1527.55 603.02C1534.40 610.47 1534.06 610.78 1540.61 618.52C1547.12 626.22 1547.30 626.08 1553.66 633.90C1560.35 642.12 1559.92 642.47 1566.72 650.60C1572.98 658.08 1572.96 658.14 1579.78 665.10C1586.02 671.48 1586.19 671.32 1592.84 677.28C1599.25 683.03 1599.35 682.92 1605.89 688.53C1612.41 694.12 1611.98 694.73 1618.95 699.67C1625.04 703.99 1632.01 707.06 1632.01 707.06" fill="none" stroke="#D66C0C" stroke-opacity="0.66" stroke-width="4" stroke-linejoin="bevel"/>
<path d="M78.14 280.13C78.14 280.13 84.67 279.71 91.19 279.23C97.72 278.74 97.74 278.87 104.25 278.19C110.80 277.51 110.77 277.25 117.31 276.51C123.83 275.77 123.84 275.93 130.37 275.21C136.90 274.50 136.90 274.47 143.42 273.66C149.96 272.85 149.95 272.79 156.48 271.98C163.01 271.17 163.08 271.61 169.54 270.43C176.14 269.21 176.05 268.71 182.60 267.19C189.10 265.67 189.09 265.54 195.65 264.34C202.14 263.15 202.19 263.40 208.71 262.40C215.25 261.39 215.22 261.23 221.77 260.33C228.28 259.42 228.41 260.11 234.83 258.77C241.47 257.39 241.30 256.62 247.89 254.89C254.36 253.19 254.33 251.91 260.94 251.91C267.39 251.91 267.48 251.91 274.00 251.92C280.53 251.94 280.54 252.02 287.06 252.44C293.60 252.87 293.59 253.04 300.12 253.62C306.65 254.21 306.77 253.62 313.17 254.79C319.83 256.00 319.90 256.23 326.23 258.68C332.96 261.28 332.57 262.30 339.29 264.90C345.62 267.35 345.74 267.15 352.35 268.79C358.80 270.39 358.82 270.72 365.41 271.38C371.88 272.03 372.12 271.38 378.46 272.03C385.17 272.72 385.05 274.16 391.52 276.57C398.10 279.02 397.93 279.51 404.58 281.75C410.99 283.92 411.10 283.60 417.64 285.38C424.16 287.16 424.12 287.35 430.69 288.88C437.17 290.39 437.20 290.34 443.75 291.47C450.25 292.60 450.26 292.64 456.81 293.42C463.32 294.20 463.41 293.54 469.87 294.60C476.47 295.67 476.34 296.42 482.93 297.68C489.40 298.92 489.44 298.74 495.98 299.58C502.50 300.42 502.50 300.40 509.04 301.04C515.56 301.68 515.58 301.48 522.10 302.15C528.64 302.82 528.62 302.99 535.16 303.72C541.68 304.44 541.68 304.48 548.21 305.05C554.74 305.62 554.79 305.16 561.27 306.01C567.85 306.86 567.75 308.44 574.33 308.44C580.80 308.44 580.87 308.44 587.39 308.35C593.93 308.26 593.91 307.20 600.45 307.20C606.96 307.20 606.98 307.28 613.50 307.45C620.03 307.63 620.06 307.45 626.56 307.89C633.12 308.33 633.07 309.00 639.62 309.59C646.12 310.17 646.16 310.23 652.68 310.23C659.22 310.23 659.21 309.58 665.73 308.80C672.27 308.02 672.31 308.24 678.79 307.10C685.37 305.95 685.25 305.19 691.85 304.22C698.31 303.27 698.41 304.01 704.91 303.27C711.47 302.51 711.54 302.69 717.97 301.22C724.60 299.70 724.35 297.29 731.02 297.29C737.41 297.29 737.55 297.30 744.08 297.41C750.61 297.52 750.63 297.41 757.14 297.73C763.68 298.04 763.65 298.97 770.20 299.05C776.71 299.14 776.73 299.14 783.25 299.14C789.78 299.14 789.79 299.00 796.31 299.00C802.85 299.00 802.88 299.22 809.37 300.06C815.94 300.91 815.90 301.22 822.43 302.38C828.96 303.54 828.99 303.40 835.49 304.70C842.04 306.01 842.07 305.94 848.54 307.60C855.12 309.28 855.09 309.44 861.60 311.37C868.14 313.31 868.20 313.14 874.66 315.33C881.26 317.56 881.34 317.43 887.72 320.21C894.39 323.12 894.16 323.64 900.77 326.72C907.22 329.71 907.19 329.82 913.83 332.35C920.25 334.79 920.48 334.19 926.89 336.64C933.54 339.18 933.22 340.10 939.95 342.34C946.28 344.44 946.64 343.32 953.01 345.33C959.69 347.44 959.70 347.59 966.06 350.56C972.76 353.70 972.67 353.92 979.12 357.56C985.73 361.30 985.50 361.73 992.18 365.32C998.55 368.75 998.58 368.75 1005.24 371.60C1011.64 374.34 1011.88 373.78 1018.29 376.50C1024.94 379.30 1024.82 379.58 1031.35 382.64C1037.88 385.70 1037.75 386.02 1044.41 388.74C1050.81 391.36 1050.97 390.94 1057.47 393.31C1064.03 395.71 1063.90 396.11 1070.53 398.30C1076.95 400.42 1077.01 400.32 1083.58 401.93C1090.06 403.53 1090.08 403.53 1096.64 404.72C1103.13 405.90 1103.20 405.53 1109.70 406.67C1116.26 407.83 1116.19 408.24 1122.76 409.33C1129.25 410.40 1129.30 410.07 1135.81 411.00C1142.36 411.92 1142.33 412.09 1148.87 413.03C1155.39 413.96 1155.47 413.54 1161.93 414.74C1168.52 415.97 1168.47 416.27 1174.99 417.89C1181.53 419.53 1181.41 420.70 1188.05 421.26C1194.47 421.80 1194.58 421.44 1201.10 421.80C1207.64 422.17 1207.65 422.06 1214.16 422.72C1220.71 423.38 1220.68 423.71 1227.22 424.45C1233.73 425.19 1233.74 425.11 1240.28 425.67C1246.80 426.24 1246.80 426.71 1253.33 426.71C1259.86 426.71 1259.86 426.19 1266.39 425.87C1272.92 425.56 1272.93 425.75 1279.45 425.45C1285.98 425.16 1285.97 424.70 1292.51 424.70C1299.03 424.70 1299.04 424.72 1305.57 424.83C1312.10 424.93 1312.09 424.97 1318.62 425.13C1325.15 425.29 1325.29 425.13 1331.68 425.46C1338.35 425.80 1338.21 427.44 1344.74 429.41C1351.27 431.38 1351.25 431.44 1357.80 433.35C1364.31 435.24 1364.29 435.31 1370.85 437.01C1377.35 438.70 1377.44 438.35 1383.91 440.13C1390.50 441.94 1390.46 442.08 1396.97 444.18C1403.52 446.29 1403.40 446.71 1410.03 448.54C1416.46 450.32 1416.58 449.85 1423.09 451.39C1429.64 452.94 1429.70 452.77 1436.14 454.74C1442.76 456.75 1442.76 456.82 1449.20 459.34C1455.82 461.92 1455.83 461.92 1462.26 464.95C1468.89 468.08 1468.81 468.26 1475.32 471.64C1481.87 475.06 1482.03 474.79 1488.37 478.55C1495.09 482.53 1494.84 482.95 1501.43 487.14C1507.89 491.24 1508.01 491.05 1514.49 495.13C1521.07 499.27 1521.04 499.32 1527.55 503.58C1534.10 507.88 1534.09 507.89 1540.61 512.24C1547.15 516.61 1547.16 516.60 1553.66 521.01C1560.21 525.46 1560.14 525.56 1566.72 529.97C1573.20 534.32 1573.63 533.75 1579.78 538.52C1586.68 543.86 1586.15 544.54 1592.84 550.19C1599.21 555.58 1599.42 555.33 1605.89 560.60C1612.48 565.96 1612.36 566.11 1618.95 571.46C1625.41 576.69 1632.01 581.77 1632.01 581.77" fill="none" stroke="#C71585" stroke-opacity="0.66" stroke-width="4" stroke-linejoin="bevel"/>
<path d="M78.14 197.60C78.14 197.60 84.64 199.68 91.19 201.60C97.70 203.50 97.73 203.38 104.25 205.23C110.79 207.08 110.75 207.23 117.31 208.99C123.80 210.73 123.82 210.67 130.37 212.23C136.88 213.79 136.88 213.82 143.42 215.22C149.93 216.61 149.99 216.36 156.48 217.81C163.04 219.28 162.94 219.81 169.54 221.05C176.00 222.27 176.07 221.86 182.60 222.74C189.13 223.62 189.15 223.49 195.65 224.56C202.21 225.64 202.21 225.68 208.71 227.04C215.27 228.41 215.20 228.72 221.77 230.02C228.26 231.31 228.27 231.35 234.83 232.23C241.33 233.10 241.35 232.97 247.89 233.53C254.41 234.08 254.49 233.53 260.94 234.44C267.55 235.37 267.47 235.94 274.00 237.42C280.53 238.90 280.54 238.82 287.06 240.35C293.60 241.88 293.59 241.93 300.12 243.54C306.65 245.15 306.73 244.86 313.17 246.78C319.79 248.75 319.72 248.99 326.23 251.32C332.78 253.66 332.69 253.92 339.29 256.12C345.75 258.27 345.83 258.03 352.35 260.01C358.89 261.99 358.89 261.99 365.41 264.03C371.94 266.07 371.89 266.25 378.46 268.18C384.95 270.08 385.00 269.90 391.52 271.68C398.06 273.46 398.03 273.58 404.58 275.31C411.08 277.02 411.09 277.02 417.64 278.55C424.14 280.07 424.14 280.10 430.69 281.40C437.20 282.70 437.21 282.67 443.75 283.74C450.27 284.81 450.27 284.82 456.81 285.69C463.33 286.55 463.33 286.50 469.87 287.21C476.39 287.91 476.38 288.03 482.93 288.51C489.44 288.98 489.45 289.12 495.98 289.12C502.51 289.13 502.51 289.12 509.04 289.13C515.57 289.13 515.57 289.13 522.10 289.13C528.63 289.13 528.63 289.13 535.16 289.13C541.69 289.13 541.69 289.13 548.21 289.00C554.75 288.88 554.74 288.65 561.27 288.36C567.80 288.07 567.81 288.23 574.33 287.84C580.87 287.46 580.87 287.46 587.39 286.81C593.93 286.16 593.90 285.91 600.45 285.26C606.96 284.61 606.97 284.74 613.50 284.22C620.03 283.71 620.04 283.77 626.56 283.19C633.10 282.61 633.08 282.45 639.62 281.90C646.14 281.35 646.14 281.31 652.68 280.99C659.20 280.68 659.21 280.87 665.73 280.64C672.27 280.41 672.27 280.41 678.79 280.07C685.32 279.73 685.32 279.28 691.85 279.28C698.37 279.28 698.38 279.32 704.91 279.59C711.44 279.86 711.45 279.86 717.97 280.37C724.50 280.87 724.50 280.91 731.02 281.61C737.56 282.31 737.54 282.50 744.08 283.16C750.60 283.82 750.61 283.66 757.14 284.24C763.67 284.83 763.72 284.52 770.20 285.48C776.78 286.46 776.71 286.88 783.25 288.12C789.77 289.35 789.78 289.28 796.31 290.44C802.84 291.60 802.86 291.53 809.37 292.76C815.91 294.01 815.89 294.12 822.43 295.40C828.95 296.67 828.96 296.60 835.49 297.88C842.02 299.16 842.01 299.23 848.54 300.51C855.07 301.78 855.13 301.50 861.60 302.98C868.19 304.50 868.12 304.77 874.66 306.50C881.18 308.23 881.23 308.07 887.72 309.90C894.28 311.75 894.21 312.03 900.77 313.88C907.26 315.71 907.28 315.67 913.83 317.25C920.34 318.82 920.40 318.58 926.89 320.18C933.45 321.80 933.34 322.31 939.95 323.69C946.40 325.05 946.58 324.24 953.01 325.67C959.63 327.14 959.51 327.67 966.06 329.50C972.57 331.32 972.58 331.26 979.12 332.96C985.64 334.64 985.65 334.62 992.18 336.26C998.71 337.90 998.68 338.04 1005.24 339.53C1011.73 341.00 1011.84 340.56 1018.29 342.19C1024.90 343.86 1024.79 344.28 1031.35 346.11C1037.85 347.93 1037.80 348.23 1044.41 349.49C1050.86 350.71 1050.94 350.25 1057.47 351.06C1064.00 351.86 1063.97 352.32 1070.53 352.70C1077.03 353.08 1077.06 352.75 1083.58 353.08C1090.12 353.40 1090.10 354.00 1096.64 354.00C1103.16 354.00 1103.17 354.00 1109.70 353.94C1116.23 353.89 1116.23 353.31 1122.76 353.31C1129.29 353.31 1129.29 353.69 1135.81 354.20C1142.35 354.72 1142.35 354.71 1148.87 355.38C1155.41 356.05 1155.40 356.11 1161.93 356.90C1168.46 357.68 1168.46 357.71 1174.99 358.52C1181.52 359.32 1181.50 359.52 1188.05 360.13C1194.56 360.73 1194.59 360.33 1201.10 360.93C1207.65 361.54 1207.65 361.64 1214.16 362.55C1220.70 363.46 1220.69 363.55 1227.22 364.58C1233.75 365.60 1233.76 365.52 1240.28 366.64C1246.82 367.75 1246.77 368.04 1253.33 369.04C1259.83 370.03 1259.89 369.66 1266.39 370.60C1272.95 371.55 1272.95 371.56 1279.45 372.83C1286.01 374.11 1285.98 374.27 1292.51 375.71C1299.04 377.15 1299.01 377.29 1305.57 378.59C1312.07 379.88 1312.13 379.56 1318.62 380.88C1325.19 382.22 1325.18 382.28 1331.68 383.90C1338.24 385.53 1338.29 385.38 1344.74 387.37C1351.35 389.41 1351.33 389.50 1357.80 391.96C1364.39 394.46 1364.34 394.60 1370.85 397.29C1377.39 399.98 1377.36 400.07 1383.91 402.73C1390.42 405.37 1390.40 405.42 1396.97 407.89C1403.46 410.32 1403.49 410.23 1410.03 412.52C1416.55 414.80 1416.57 414.72 1423.09 417.01C1429.63 419.33 1429.60 419.41 1436.14 421.74C1442.66 424.06 1442.73 423.88 1449.20 426.32C1455.79 428.82 1455.72 429.00 1462.26 431.62C1468.78 434.24 1468.76 434.28 1475.32 436.79C1481.82 439.28 1481.88 439.12 1488.37 441.64C1494.94 444.18 1494.91 444.26 1501.43 446.90C1507.97 449.55 1507.94 449.62 1514.49 452.23C1521.00 454.82 1521.04 454.70 1527.55 457.29C1534.10 459.90 1534.07 459.98 1540.61 462.64C1547.13 465.28 1547.21 465.09 1553.66 467.88C1560.27 470.73 1560.18 470.93 1566.72 473.93C1573.24 476.93 1573.26 476.88 1579.78 479.89C1586.32 482.91 1586.27 483.03 1592.84 486.00C1599.32 488.92 1599.43 488.70 1605.89 491.66C1612.48 494.68 1612.37 494.92 1618.95 497.96C1625.43 500.95 1632.01 503.72 1632.01 503.72" fill="none" stroke="#00697A" stroke-opacity="0.66" stroke-width="4" stroke-linejoin="bevel"/>
<rect x="77" y="810" width="1557" height="2" fill="#6E7079"/>
<rect x="78" y="810" width="2" height="10" fill="#6E7079"/>
<rect x="274" y="810" width="2" height="10" fill="#6E7079"/>
<rect x="470" y="810" width="2" height="10" fill="#6E7079"/>
<rect x="666" y="810" width="2" height="10" fill="#6E7079"/>
<rect x="862" y="810" width="2" height="10" fill="#6E7079"/>
<rect x="1057" y="810" width="2" height="10" fill="#6E7079"/>
<rect x="1253" y="810" width="2" height="10" fill="#6E7079"/>
<rect x="1449" y="810" width="2" height="10" fill="#6E7079"/>
<rect x="1632" y="810" width="2" height="10" fill="#6E7079"/>
<text x="61.5" y="125.8" text-anchor="end" font-family="Liberation Sans, sans-serif" font-size="26" fill="#6E7079" textLength="28.1" lengthAdjust="spacingAndGlyphs">24</text>
<text x="61.5" y="240.8" text-anchor="end" font-family="Liberation Sans, sans-serif" font-size="26" fill="#6E7079" textLength="28.1" lengthAdjust="spacingAndGlyphs">22</text>
<text x="61.5" y="355.8" text-anchor="end" font-family="Liberation Sans, sans-serif" font-size="26" fill="#6E7079" textLength="28.1" lengthAdjust="spacingAndGlyphs">20</text>
<text x="61.5" y="470.8" text-anchor="end" font-family="Liberation Sans, sans-serif" font-size="26" fill="#6E7079" textLength="28.1" lengthAdjust="spacingAndGlyphs">18</text>
<text x="61.5" y="585.8" text-anchor="end" font-family="Liberation Sans, sans-serif" font-size="26" fill="#6E7079" textLength="28.1" lengthAdjust="spacingAndGlyphs">16</text>
<text x="61.5" y="700.8" text-anchor="end" font-family="Liberation Sans, sans-serif" font-size="26" fill="#6E7079" textLength="28.1" lengthAdjust="spacingAndGlyphs">14</text>
<text x="61.5" y="815.8" text-anchor="end" font-family="Liberation Sans, sans-serif" font-size="26" fill="#6E7079" textLength="28.1" lengthAdjust="spacingAndGlyphs">12</text>
<text x="78.4" y="844.3" text-anchor="middle" font-family="Liberation Sans, sans-serif" font-size="26" fill="#6E7079" textLength="112.7" lengthAdjust="spacingAndGlyphs">20240108</text>
<text x="274.3" y="844.3" text-anchor="middle" font-family="Liberation Sans, sans-serif" font-size="26" fill="#6E7079" textLength="112.7" lengthAdjust="spacingAndGlyphs">20240129</text>
<text x="470.2" y="844.3" text-anchor="middle" font-family="Liberation Sans, sans-serif" font-size="26" fill="#6E7079" textLength="112.7" lengthAdjust="spacingAndGlyphs">20240227</text>
<text x="666.0" y="844.3" text-anchor="middle" font-family="Liberation Sans, sans-serif" font-size="26" fill="#6E7079" textLength="112.7" lengthAdjust="spacingAndGlyphs">20240319</text>
<text x="861.9" y="844.3" text-anchor="middle" font-family="Liberation Sans, sans-serif" font-size="26" fill="#6E7079" textLength="112.7" lengthAdjust="spacingAndGlyphs">20240411</text>
<text x="1057.8" y="844.3" text-anchor="middle" font-family="Liberation Sans, sans-serif" font-size="26" fill="#6E7079" textLength="112.7" lengthAdjust="spacingAndGlyphs">20240507</text>
<text x="1253.6" y="844.3" text-anchor="middle" font-family="Liberation Sans, sans-serif" font-size="26" fill="#6E7079" textLength="112.7" lengthAdjust="spacingAndGlyphs">20240528</text>
<text x="1449.5" y="844.3" text-anchor="middle" font-family="Liberation Sans, sans-serif" font-size="26" fill="#6E7079" textLength="112.7" lengthAdjust="spacingAndGlyphs">20240619</text>
<text x="1632.3" y="844.3" text-anchor="middle" font-family="Liberation Sans, sans-serif" font-size="26" fill="#6E7079" textLength="112.7" lengthAdjust="spacingAndGlyphs">20240709</text>
<text x="752.3" y="47.0" font-family="Liberation Sans, Noto Sans CJK SC, sans-serif" font-size="36" fill="#333">隆基绿能</text>
<text x="907.5" y="45.8" font-family="Liberation Sans, sans-serif" font-size="35.4" fill="#333" textLength="116.5" lengthAdjust="spacingAndGlyphs">601012</text>
<rect x="1056" y="20" width="2" height="25" fill="#EEEEEE"/>
<text x="1089.5" y="47.0" font-family="Liberation Sans, Noto Sans CJK SC, sans-serif" font-size="36" fill="#333">日</text>
<text x="1126.5" y="45.8" font-family="Liberation Sans, sans-serif" font-size="37.4" fill="#333" textLength="20.2" lengthAdjust="spacingAndGlyphs">K</text>
<rect x="568" y="934.8" width="50" height="4" fill="#3A0F8C" fill-opacity="0.66"/>
<circle cx="593" cy="936.7" r="10.9" fill="#fff" stroke="#3A0F8C" stroke-width="3.9"/>
<text x="628.6" y="942.7" font-family="Liberation Sans, sans-serif" font-size="24.6" fill="#333" textLength="54.2" lengthAdjust="spacingAndGlyphs">MA5</text>
<rect x="704" y="934.8" width="50" height="4" fill="#D66C0C" fill-opacity="0.66"/>
<circle cx="729" cy="936.7" r="10.9" fill="#fff" stroke="#D66C0C" stroke-width="3.9"/>
<text x="764.6" y="942.7" font-family="Liberation Sans, sans-serif" font-size="24.6" fill="#333" textLength="68.4" lengthAdjust="spacingAndGlyphs">MA10</text>
<rect x="855" y="934.8" width="50" height="4" fill="#C71585" fill-opacity="0.66"/>
<circle cx="880" cy="936.7" r="10.9" fill="#fff" stroke="#C71585" stroke-width="3.9"/>
<text x="915.6" y="942.7" font-family="Liberation Sans, sans-serif" font-size="24.6" fill="#333" textLength="68.4" lengthAdjust="spacingAndGlyphs">MA30</text>
<rect x="1005" y="934.8" width="50" height="4" fill="#00697A" fill-opacity="0.66"/>
<circle cx="1030" cy="936.7" r="10.9" fill="#fff" stroke="#00697A" stroke-width="3.9"/>
<text x="1065.6" y="942.7" font-family="Liberation Sans, sans-serif" font-size="24.6" fill="#333" textLength="68.4" lengthAdjust="spacingAndGlyphs">MA60</text>
<text x="720" y="1025.5" font-family="Liberation Sans, Noto Sans CJK SC, sans-serif" font-size="28" fill="#666">数据来源</text>
<g fill="#666"><circle cx="839.6" cy="1010.2" r="1.9"/><circle cx="839.6" cy="1023.6" r="1.9"/></g>
<text x="868" y="1025.5" font-family="Liberation Sans, Noto Sans CJK SC, sans-serif" font-size="28" fill="#666">恒生聚源</text>
</svg>
</body></html>
